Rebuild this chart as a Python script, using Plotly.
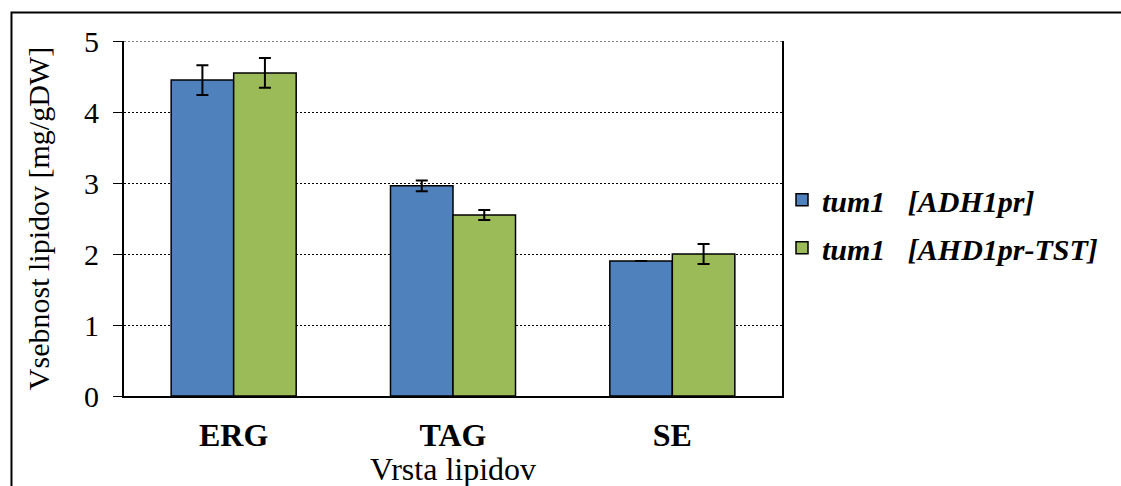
import plotly.graph_objects as go

categories = ["ERG", "TAG", "SE"]
series_names = ["tum1\u00a0\u00a0\u00a0[ADH1pr]", "tum1\u00a0\u00a0\u00a0[AHD1pr-TST]"]
adh_values = [4.45, 2.96, 1.90]
adh_errors = [0.21, 0.075, None]
tst_values = [4.55, 2.55, 2.00]
tst_errors = [0.21, 0.07, 0.14]
y_ticks = [0, 1, 2, 3, 4, 5]

FONT = "Liberation Serif"
colors = ["#4F81BD", "#9BBB59"]

fig = go.Figure()
for i, (name, vals, errs) in enumerate(zip(series_names, [adh_values, tst_values], [adh_errors, tst_errors])):
    fig.add_trace(go.Bar(
        x=categories, y=vals, name="<b><i>" + name + "</i></b>",
        marker=dict(color=colors[i], line=dict(color="black", width=1.5)),
        error_y=dict(type="data", array=errs, visible=True, color="black", thickness=2, width=6),
        legendgroup=f"g{i}",
    ))

fig.update_layout(
    width=1121, height=486,
    margin=dict(l=124, r=339, t=41, b=90),
    paper_bgcolor="white", plot_bgcolor="white",
    barmode="group", bargap=0.43, bargroupgap=0,
    font=dict(family=FONT, color="black", size=24),
    showlegend=True,
    legend=dict(x=1.0, y=0.485, xanchor="left", yanchor="middle",
                font=dict(family=FONT, size=30, color="black"),
                traceorder="grouped", tracegroupgap=6,
                itemwidth=30, bgcolor="rgba(0,0,0,0)"),
    xaxis=dict(
        automargin=False,
        showline=True, linecolor="black", linewidth=2,
        ticks="outside", ticklen=0, ticklabelstandoff=10,
        tickfont=dict(family=FONT, size=32, color="black"),
        tickprefix="<b>", ticksuffix="</b>",
        showgrid=False, zeroline=False,
    ),
    yaxis=dict(
        automargin=False,
        range=[0, 5], tickvals=y_ticks,
        showline=True, linecolor="black", linewidth=2, mirror=True,
        ticks="outside", ticklen=9, tickcolor="black", tickwidth=1,
        ticklabelstandoff=8,
        tickfont=dict(family=FONT, size=30, color="black"),
        showgrid=True, gridcolor="black", griddash="2px,2px", gridwidth=1,
        zeroline=False,
        title=dict(text="Vsebnost lipidov [mg/gDW]", font=dict(family=FONT, size=30), standoff=26),
    ),
    annotations=[dict(text="Vrsta lipidov", xref="paper", yref="paper", x=0.5, y=-0.205,
                      xanchor="center", yanchor="middle", showarrow=False,
                      font=dict(family=FONT, size=32, color="black"))],
    shapes=[
        dict(type="rect", xref="paper", yref="paper",
             x0=-0.171, x1=1.6, y0=-0.4, y1=1.08,
             line=dict(color="black", width=2), fillcolor="rgba(0,0,0,0)", layer="below"),
        dict(type="line", xref="paper", yref="y", x0=0, x1=1, y0=y_ticks[-1], y1=y_ticks[-1],
             line=dict(color="black", width=1, dash="2px,2px"), layer="below"),
    ],
)

fig.write_html("out.html")
